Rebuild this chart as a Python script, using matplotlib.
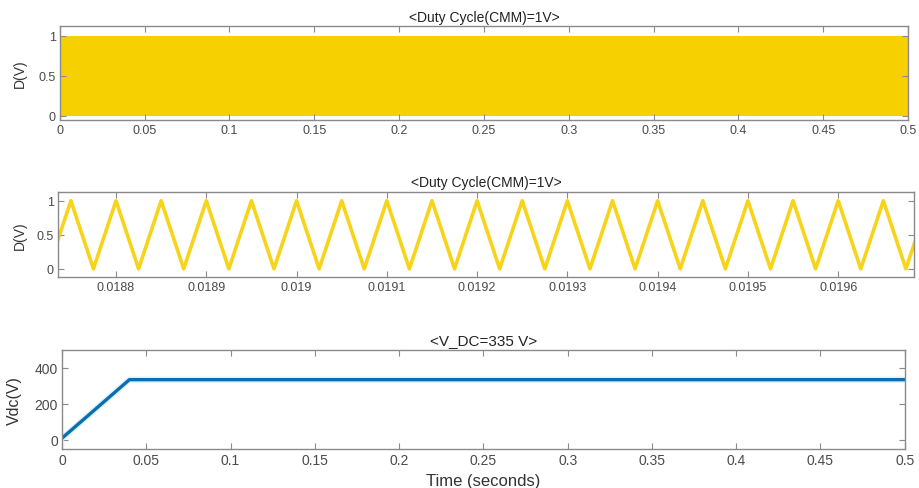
import numpy as np
import matplotlib
matplotlib.use('Agg')
import matplotlib.pyplot as plt

plt.rcParams['font.family'] = ['Liberation Sans', 'DejaVu Sans']

# duty cycle over the whole run: the 20 kHz carrier fills the band 0..1
full_t = [0.0, 0.5]
full_lo = [0.0, 0.0]
full_hi = [1.0, 1.0]

# zoomed duty cycle, corner points of the triangle carrier
zoom_t = [0.018725, 0.01875, 0.018775, 0.0188, 0.018825, 0.01885, 0.018875,
          0.0189, 0.018925, 0.01895, 0.018975, 0.019, 0.019025, 0.01905,
          0.019075, 0.0191, 0.019125, 0.01915, 0.019175, 0.0192, 0.019225,
          0.01925, 0.019275, 0.0193, 0.019325, 0.01935, 0.019375, 0.0194,
          0.019425, 0.01945, 0.019475, 0.0195, 0.019525, 0.01955, 0.019575,
          0.0196, 0.019625, 0.01965, 0.019675, 0.0197]
zoom_d = [0, 1, 0, 1, 0, 1, 0, 1, 0, 1, 0, 1, 0, 1, 0, 1, 0, 1, 0, 1,
          0, 1, 0, 1, 0, 1, 0, 1, 0, 1, 0, 1, 0, 1, 0, 1, 0, 1, 0, 1]

# dc link voltage
vdc_t = [0.0, 0.04, 0.5]
vdc_v = [10, 335, 335]

xticks_full = [0, 0.05, 0.1, 0.15, 0.2, 0.25, 0.3, 0.35, 0.4, 0.45, 0.5]
xlabels_full = ['0', '0.05', '0.1', '0.15', '0.2', '0.25', '0.3', '0.35', '0.4', '0.45', '0.5']
xticks_zoom = [0.0188, 0.0189, 0.019, 0.0191, 0.0192, 0.0193, 0.0194, 0.0195, 0.0196]
xlabels_zoom = ['0.0188', '0.0189', '0.019', '0.0191', '0.0192', '0.0193', '0.0194', '0.0195', '0.0196']

yellow = '#F7D000'
blue = '#0A6FB0'
edge = '#8a8a8a'
txt = '#4a4a4a'

fig = plt.figure(figsize=(9.2, 4.89), dpi=100)
ax1 = fig.add_axes([0.065, 0.7526, 0.922, 0.192])
ax2 = fig.add_axes([0.063, 0.4315, 0.9305, 0.174])
ax3 = fig.add_axes([0.0674, 0.0798, 0.916, 0.2025])


def style(ax):
    for s in ax.spines.values():
        s.set_color(edge)
        s.set_linewidth(1.0)
    ax.tick_params(direction='in', top=True, right=True, length=4,
                   color=edge, labelcolor=txt, labelsize=9, pad=3)


ax1.fill_between(full_t, full_lo, full_hi, color=yellow, linewidth=0)
ax1.set_xlim(0, 0.5)
ax1.set_ylim(-0.05, 1.12)
ax1.set_xticks(xticks_full, xlabels_full)
ax1.set_yticks([0, 0.5, 1], ['0', '0.5', '1'])
ax1.set_ylabel('D(V)', fontsize=10, color='#333333')
ax1.yaxis.set_label_coords(-0.039, 0.5)
ax1.set_title('<Duty Cycle(CMM)=1V>', fontsize=10, pad=4, color='#222222')
style(ax1)

ax2.plot(zoom_t, zoom_d, color=yellow, linewidth=2.6, alpha=0.9)
ax2.set_xlim(0.0187357, 0.019684)
ax2.set_ylim(-0.12, 1.13)
ax2.set_xticks(xticks_zoom, xlabels_zoom)
ax2.set_yticks([0, 0.5, 1], ['0', '0.5', '1'])
ax2.set_ylabel('D(V)', fontsize=10, color='#333333')
ax2.yaxis.set_label_coords(-0.036, 0.5)
ax2.set_title('<Duty Cycle(CMM)=1V>', fontsize=10, pad=4, color='#222222')
style(ax2)

ax3.plot(vdc_t, vdc_v, color='#dff2fa', linewidth=4.5)
ax3.plot(vdc_t, vdc_v, color=blue, linewidth=2.4)
ax3.set_xlim(0, 0.5)
ax3.set_ylim(-50, 500)
ax3.set_xticks(xticks_full, xlabels_full)
ax3.set_yticks([0, 200, 400], ['0', '200', '400'])
ax3.set_ylabel('Vdc(V)', fontsize=11.5, color='#333333')
ax3.yaxis.set_label_coords(-0.047, 0.5)
ax3.set_xlabel('Time (seconds)', fontsize=12, labelpad=4, color='#333333')
ax3.set_title('<V_DC=335 V>', fontsize=11, pad=4, color='#222222')
style(ax3)
ax3.tick_params(labelsize=10)

fig.savefig('out.png', dpi=100)
